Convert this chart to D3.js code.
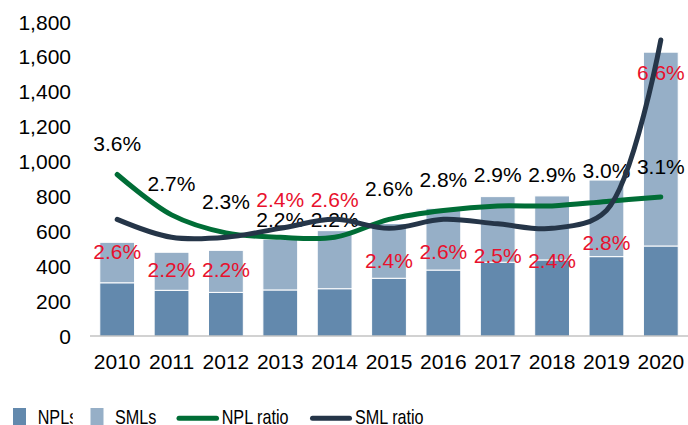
<!DOCTYPE html>
<html lang="en">
<head>
  <meta charset="UTF-8">
  <title>NPLs and SMLs</title>
  <script src="https://d3js.org/d3.v7.min.js"></script>
  <style>
    body { margin:0; background:#fff; overflow:hidden; }
    svg { display:block; }
    text { font-family: "Liberation Sans", Arial, sans-serif; }
  </style>
</head>
<body>
<svg width="688" height="425"></svg>
<script>
const years = ['2010','2011','2012','2013','2014','2015','2016','2017','2018','2019','2020'];
const npls = [305, 262, 250, 264, 271, 331, 378, 423, 436, 455, 516];
const smls = [232, 218, 241, 291, 333, 314, 354, 376, 367, 439, 1111];
const nplRatio = [3.6, 2.7, 2.3, 2.2, 2.2, 2.6, 2.8, 2.9, 2.9, 3.0, 3.1];
const smlRatio = [2.6, 2.2, 2.2, 2.4, 2.6, 2.4, 2.6, 2.5, 2.4, 2.8, 6.6];
const yTicks = [0, 200, 400, 600, 800, 1000, 1200, 1400, 1600, 1800];

const C = { npl:'#6389ad', sml:'#96afc7', green:'#006d36', navy:'#253548', red:'#e8112d', axis:'#a6a6a6' };

const svg = d3.select('svg');
const rows = years.map((y,i) => ({ year:y, npl:npls[i], sml:smls[i], nr:nplRatio[i], sr:smlRatio[i] }));

const x = d3.scaleBand().domain(years).range([90, 688]).paddingInner(0.36).paddingOuter(0.18);
const y = d3.scaleLinear().domain([0, 1800]).range([336, 22]);
const y2 = d3.scaleLinear().domain([0, 7]).range([336, 22]);
const cx = d => x(d.year) + x.bandwidth()/2;

// y tick labels
svg.append('g').selectAll('text').data(yTicks).join('text')
  .attr('x', 71).attr('y', d => y(d)).attr('dy', '0.36em')
  .attr('text-anchor', 'end').attr('font-size', 21).attr('fill', '#000')
  .text(d => d3.format(',')(d));

// stacked bars
const stack = d3.stack().keys(['npl','sml'])(rows);
svg.append('g').selectAll('g').data(stack).join('g')
  .attr('fill', s => s.key === 'npl' ? C.npl : C.sml)
  .selectAll('rect').data(s => s.map((p,i) => ({p, d:rows[i]}))).join('rect')
  .attr('x', e => x(e.d.year)).attr('width', x.bandwidth())
  .attr('y', e => y(e.p[1])).attr('height', e => y(e.p[0]) - y(e.p[1]))
  .attr('stroke', '#fff').attr('stroke-width', 1);

// baseline
svg.append('line').attr('x1', 90).attr('x2', 688).attr('y1', y(0)).attr('y2', y(0))
  .attr('stroke', C.axis).attr('stroke-width', 1.2);

// year labels
svg.append('g').selectAll('text').data(years).join('text')
  .attr('x', d => x(d) + x.bandwidth()/2).attr('y', 369)
  .attr('text-anchor', 'middle').attr('font-size', 21).text(d => d);

// data labels: SML ratio sits above when it just crosses NPL ratio
const crossed = d => d.sr > d.nr && d.sr - d.nr < 1;
svg.append('g').selectAll('text').data(rows).join('text')
  .attr('x', cx).attr('dy', '0.36em').attr('text-anchor', 'middle')
  .attr('font-size', 21).attr('fill', '#000')
  .attr('y', d => crossed(d) ? y2(d.nr) - 18 : y2(d.nr) - 31)
  .text(d => d.nr.toFixed(1) + '%');
svg.append('g').selectAll('text').data(rows).join('text')
  .attr('x', cx).attr('dy', '0.36em').attr('text-anchor', 'middle')
  .attr('font-size', 21).attr('fill', C.red)
  .attr('y', d => crossed(d) ? y2(d.nr) - 38 : y2(d.sr) + 32)
  .text(d => d.sr.toFixed(1) + '%');

// ratio lines
const line = key => d3.line().x(cx).y(d => y2(d[key])).curve(d3.curveCatmullRom.alpha(0.5));
svg.append('path').datum(rows).attr('d', line('nr'))
  .attr('fill', 'none').attr('stroke', C.green).attr('stroke-width', 5).attr('stroke-linecap', 'round');
svg.append('path').datum(rows).attr('d', line('sr'))
  .attr('fill', 'none').attr('stroke', C.navy).attr('stroke-width', 5).attr('stroke-linecap', 'round');

// legend
svg.append('clipPath').attr('id', 'nplClip').append('rect').attr('x', 0).attr('y', 380).attr('width', 72.7).attr('height', 45);
const leg = svg.append('g');
leg.append('rect').attr('x', 13).attr('y', 408).attr('width', 13).attr('height', 17).attr('fill', C.npl);
leg.append('rect').attr('x', 90.5).attr('y', 408).attr('width', 13).attr('height', 17).attr('fill', C.sml);
leg.append('line').attr('x1', 179).attr('x2', 216.5).attr('y1', 418.3).attr('y2', 418.3)
  .attr('stroke', C.green).attr('stroke-width', 5).attr('stroke-linecap', 'round');
leg.append('line').attr('x1', 312.5).attr('x2', 349.5).attr('y1', 418.3).attr('y2', 418.3)
  .attr('stroke', C.navy).attr('stroke-width', 5).attr('stroke-linecap', 'round');
[['NPLs', 37.7, 'url(#nplClip)'], ['SMLs', 115, null], ['NPL ratio', 221.7, null], ['SML ratio', 355, null]]
  .forEach(([t, tx, clip]) => {
    const el = leg.append('text').attr('x', tx).attr('y', 424).attr('font-size', 21).text(t);
    if (clip) el.attr('clip-path', clip);
    const w = el.node().getComputedTextLength();
    el.attr('textLength', w * 0.77).attr('lengthAdjust', 'spacingAndGlyphs');
  });
</script>
</body>
</html>
